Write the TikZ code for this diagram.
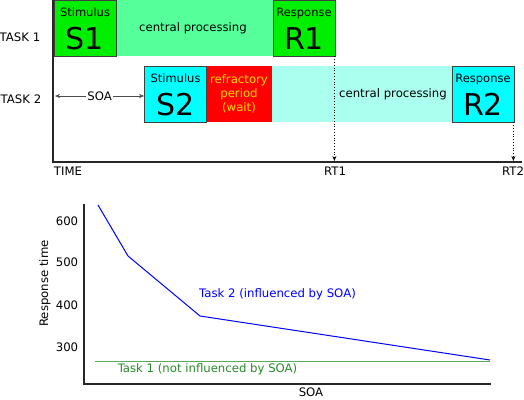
\documentclass[tikz,border=0pt]{standalone}
\usepackage{fontspec}
\setmainfont{DejaVu Sans}
\usetikzlibrary{arrows,arrows.meta,positioning}

\definecolor{stimgreen}{RGB}{0,238,0}
\definecolor{procgreen}{RGB}{85,255,153}
\definecolor{stimcyan}{RGB}{0,255,255}
\definecolor{proccyan}{RGB}{170,255,238}
\definecolor{waitred}{RGB}{255,0,0}
\definecolor{waittext}{RGB}{255,221,0}
\definecolor{taskonegreen}{RGB}{40,140,40}
\definecolor{taskoneline}{RGB}{90,170,90}

\tikzset{
  stagebox/.style={draw=black!75, thick, minimum width=62pt, minimum height=56pt,
                   inner sep=0pt, text height=42pt, text depth=0pt,
                   font=\fontsize{30}{30}\selectfont},
  boxtitle/.style={anchor=base, inner sep=0pt, yshift=-17pt,
                   font=\fontsize{11.5}{13}\selectfont},
  band/.style={minimum height=56pt, inner sep=0pt},
  axis/.style={line width=1.6pt, black!85},
}

\begin{document}
\begin{tikzpicture}[x=1pt,y=-1pt,>={Stealth[length=5pt,width=4pt]},font=\fontsize{11.7}{14}\selectfont]
  \useasboundingbox (0,0) rectangle (524,399);

  % time line
  \coordinate (top)    at (53,0);
  \coordinate (origin) at (53,162);
  \coordinate (tend)   at (522,162);
  \draw[axis] (top) -- (origin) -- (tend);

  \node (task1) at (20,37) {TASK 1};
  \node (task2) at (21,99) {TASK 2};
  \node (time)  at (68,171) {TIME};

  % task 1
  \node[band, fill=procgreen, minimum width=219pt] (cp1) at (193,28) {central processing};
  \node[stagebox, fill=stimgreen, label={[boxtitle]north:Stimulus}] (S1) at (85,28) {S1};
  \node[stagebox, fill=stimgreen, label={[boxtitle]north:Response}] (R1) at (304,28) {R1};

  % task 2
  \node[band, fill=proccyan, minimum width=242pt] (cp2) at (393,94) {central processing};
  \node[band, fill=waitred, minimum width=66pt, text=waittext, align=center]
       (wait) at (239,94) {refractory\\period\\(wait)};
  \node[stagebox, fill=stimcyan, label={[boxtitle]north:Stimulus}] (S2) at (175.5,94) {S2};
  \node[stagebox, fill=stimcyan, label={[boxtitle]north:Response}] (R2) at (483,94) {R2};

  \coordinate (soa) at (55,96);
  \draw[<->, black!70] (soa) -- node[fill=white, inner sep=1pt, text=black] {SOA} (S2.west |- soa);

  % reaction times
  \draw[->, dotted, thick, shorten >=1pt] ([xshift=-1pt]R1.south east) -- ([xshift=-1pt]R1.south east |- origin);
  \draw[->, dotted, thick, shorten >=1pt] ([xshift=-1pt]R2.south east) -- ([xshift=-1pt]R2.south east |- origin);
  \node (rt1) at (335,171) {RT1};
  \node (rt2) at (513,171) {RT2};

  % response time plot
  \coordinate (ytop)  at (84,204);
  \coordinate (pzero) at (84,384);
  \coordinate (xend)  at (491,384);
  \draw[axis] (ytop) -- (pzero) -- (xend);

  \node (t600) at (67,221)   {600};
  \node (t500) at (67,262.5) {500};
  \node (t400) at (67,305.5) {400};
  \node (t300) at (67,347.5) {300};
  \node[rotate=90] (ylab) at (45,283.5) {Response time};
  \node[anchor=base] (xlab) at (311,396.5) {SOA};

  \draw[taskoneline, semithick] (95,361.5) -- (490,361.5);
  \draw[blue, line width=1pt] (98,205) -- (128,256) -- (200,316) -- (490,360);

  \node[blue] (task2lab) at (277.5,294) {Task 2 (influenced by SOA)};
  \node[taskonegreen] (task1lab) at (207.5,369) {Task 1 (not influenced by SOA)};
\end{tikzpicture}
\end{document}
